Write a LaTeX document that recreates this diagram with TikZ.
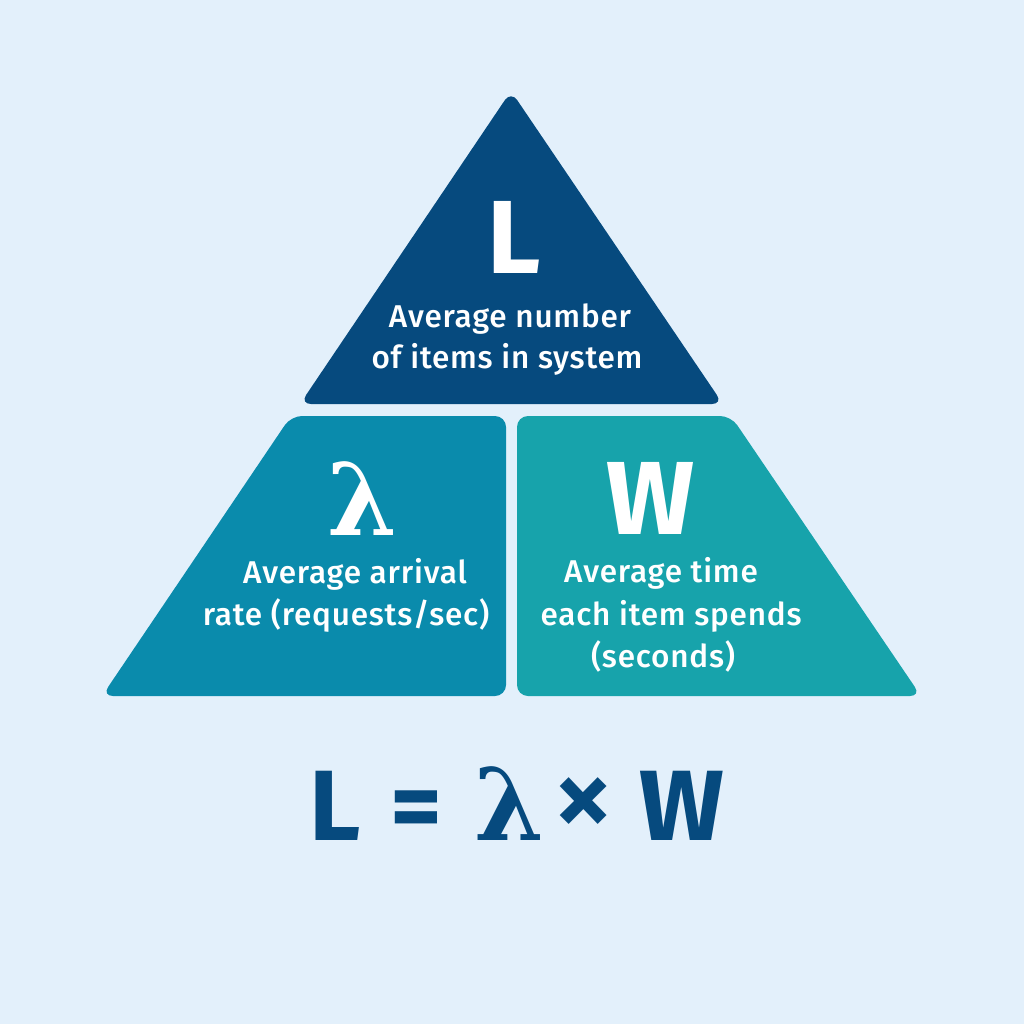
\documentclass[tikz,border=0pt]{standalone}
\usepackage{fontspec}
\setmainfont{Fira Sans}
\newfontfamily\medfont[LetterSpace=2.5]{Fira Sans Medium}
\newfontfamily\lamfont{DejaVu Serif}
\definecolor{bgc}{HTML}{E3F0FB}
\definecolor{topc}{HTML}{064A7E}
\definecolor{leftc}{HTML}{0A8BAC}
\definecolor{rightc}{HTML}{17A3AB}
\begin{document}
\begin{tikzpicture}[x=1pt,y=-1pt,
  bigletter/.style={text=white,font=\fontsize{104}{104}\selectfont\bfseries,inner sep=0pt},
  lamwhite/.style={text=white,font=\lamfont\bfseries\fontsize{100}{100}\selectfont,inner sep=0pt},
  lamblue/.style={text=topc,font=\lamfont\bfseries\fontsize{100}{100}\selectfont,inner sep=0pt,anchor=base},
  desc/.style={text=white,font=\medfont\fontsize{31.5}{36}\selectfont,inner sep=0pt,anchor=base},
  eq/.style={text=topc,font=\fontsize{100}{100}\selectfont\bfseries,inner sep=0pt,anchor=base},
  eqx/.style={text=topc,font=\medfont\fontsize{122}{122}\selectfont,inner sep=0pt},
  shapefill/.style={rounded corners=11pt}]
\fill[bgc] (0,0) rectangle (1024,1024);
\useasboundingbox (0,0) rectangle (1024,1024);
% shapes
\fill[topc,shapefill] (511,91) -- (723,404) -- (300,404) -- cycle;
\fill[leftc,shapefill] (291,416) -- (506,416) -- (506,696) -- (102,696) -- cycle;
\fill[rightc,shapefill] (517,416) -- (731,416) -- (921,696) -- (517,696) -- cycle;
% top
\node[bigletter] (L) at (514,237) {L};
\node[desc] (t1) at (510,327) {Average number};
\node[desc] (t2) at (507,368) {of items in system};
% left
\node[lamwhite] (lam) at (363,499) {λ};
\node[desc] (l1) at (355,583) {Average arrival};
\node[desc] (l2) at (346,625) {rate (requests/sec)};
% right
\node[bigletter] (W) at (651,498) {W};
\node[desc] (r1) at (661,582) {Average time};
\node[desc] (r2) at (671,625) {each item spends};
\node[desc] (r3) at (663,667) {(seconds)};
% equation
\node[eq] (eqL) at (335,840) {L};
\node[eq] (eqE) at (416,840) {=};
\node[lamblue] (eqlam) at (510,840) {λ};
\node[eqx] (eqX) at (584,808) {×};
\node[eq] (eqW) at (682,840) {W};
\end{tikzpicture}
\end{document}
